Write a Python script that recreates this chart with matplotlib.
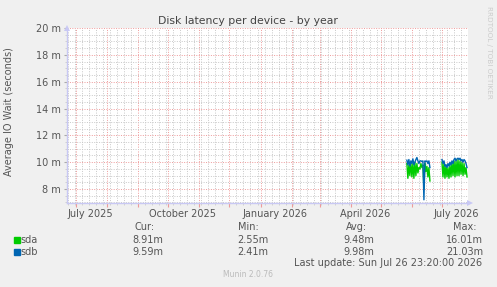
import matplotlib
matplotlib.use("Agg")
import matplotlib.pyplot as plt
import matplotlib.dates as mdates
import numpy as np
from datetime import datetime, timedelta

# ---- data ----
title = "Disk latency per device - by year"
ylabel = "Average IO Wait (seconds)"
series_names = ["sda", "sdb"]
series_colors = ["#00CC00", "#0066B3"]

seg1_start = datetime(2026, 5, 27)
seg2_start = datetime(2026, 7, 1)

sda_seg1 = [9.9, 8.8, 9.8, 9.0, 10.0, 8.9, 9.9, 8.8, 10.0, 9.0, 9.9, 9.2,
            9.6, 9.5, 9.9, 9.6, 9.8, 8.0, 9.9, 9.3, 9.7, 8.9, 9.6, 8.6]
sdb_seg1 = [10.15, 9.8, 10.2, 9.7, 10.1, 9.9, 10.25, 9.8, 10.0, 10.2, 10.35, 10.1,
            9.9, 10.1, 10.1, 10.05, 10.1, 7.2, 10.1, 10.05, 10.1, 9.9, 10.1, 9.6]
sda_seg2 = [10.0, 8.9, 9.9, 8.8, 9.8, 8.9, 9.6, 8.8, 9.8, 8.9, 10.0, 9.0, 10.1,
            8.9, 10.1, 9.0, 10.2, 9.0, 10.1, 9.1, 10.0, 9.0, 9.9, 9.1, 9.6, 8.9]
sdb_seg2 = [10.2, 9.9, 10.1, 9.7, 9.8, 9.6, 9.9, 9.7, 10.0, 9.8, 10.1, 9.9, 10.2,
            10.3, 10.1, 10.25, 10.3, 10.2, 10.3, 10.1, 10.2, 10.0, 10.2, 10.1, 9.9, 9.6]

y_ticks = [8, 10, 12, 14, 16, 18, 20]
x_label_dates = [datetime(2025, 7, 15), datetime(2025, 10, 15), datetime(2026, 1, 15),
                 datetime(2026, 4, 15), datetime(2026, 7, 15)]
x_labels = ["July 2025", "October 2025", "January 2026", "April 2026", "July 2026"]

legend_headers = ["Cur:", "Min:", "Avg:", "Max:"]
sda_stats = ["8.91m", "2.55m", "9.48m", "16.01m"]
sdb_stats = ["9.59m", "2.41m", "9.98m", "21.03m"]
last_update = "Last update: Sun Jul 26 23:20:00 2026"
footer = "Munin 2.0.76"
watermark = "RRDTOOL / TOBI OETIKER"

t_end = datetime(2026, 7, 26, 23, 20)
t_start = t_end - timedelta(days=400)

# ---- figure ----
W, H = 497, 287
fig = plt.figure(figsize=(W / 100, H / 100), dpi=100, facecolor="#F0F0F0")
plt.rcParams["font.family"] = ["DejaVu Sans"]


def fx(px):
    return px / W


def fy(py):
    return 1 - py / H


ax = fig.add_axes([fx(67), fy(203), fx(468) - fx(67), fy(28) - fy(203)])
ax.set_facecolor("white")

def dates_from(start, n):
    return [start + timedelta(days=i) for i in range(n)]

d1 = dates_from(seg1_start, len(sda_seg1))
d2 = dates_from(seg2_start, len(sda_seg2))
ax.plot(d1, sda_seg1, color=series_colors[0], lw=1.0, zorder=3)
ax.plot(d2, sda_seg2, color=series_colors[0], lw=1.0, zorder=3)
ax.plot(d1, sdb_seg1, color=series_colors[1], lw=1.0, zorder=4)
ax.plot(d2, sdb_seg2, color=series_colors[1], lw=1.0, zorder=4)

ax.set_xlim(t_start, t_end)
ax.set_ylim(6.96, 20)

# grid
ax.xaxis.set_major_locator(mdates.MonthLocator())
ax.xaxis.set_minor_locator(mdates.WeekdayLocator(byweekday=mdates.MO))
ax.yaxis.set_major_locator(plt.FixedLocator(y_ticks))
ax.yaxis.set_minor_locator(plt.MultipleLocator(0.5))
ax.grid(which="minor", color="#C8C8C8", linestyle=(0, (1, 1.5)), lw=0.7, zorder=1)
ax.grid(which="major", color="#EE9A9A", linestyle=(0, (1, 1.5)), lw=0.7, zorder=2)
ax.set_axisbelow(True)

ax.tick_params(axis="x", which="major", length=3, color="#EE9A9A", labelbottom=False, direction="out")
ax.tick_params(axis="x", which="minor", length=1.5, color="#CCCCCC", labelbottom=False)
ax.tick_params(axis="y", which="major", length=2.5, color="#AAAAAA", labelsize=7,
               labelcolor="#555555", pad=2)
ax.tick_params(axis="y", which="minor", length=1.5, color="#CCCCCC")
ax.set_yticklabels([f"{v} m" for v in y_ticks])

for s in ["top", "right"]:
    ax.spines[s].set_visible(False)
for s in ["left", "bottom"]:
    ax.spines[s].set_color("#C8C8F4")
    ax.spines[s].set_linewidth(1.0)

# arrowheads
ax.plot([0], [1.0], marker="^", markersize=4, color="#C8C8F4", transform=ax.transAxes,
        clip_on=False, zorder=5, markeredgewidth=0)
ax.plot([1.005], [0], marker=">", markersize=4, color="#C8C8F4", transform=ax.transAxes,
        clip_on=False, zorder=5, markeredgewidth=0)

# x labels
sec = ax.secondary_xaxis("bottom")
sec.set_xticks(mdates.date2num(x_label_dates))
sec.set_xticklabels(x_labels)
sec.tick_params(length=0, labelsize=7, labelcolor="#555555", pad=4)
sec.spines["bottom"].set_visible(False)

# title & labels
fig.text(fx(248), fy(21), title, ha="center", va="center", fontsize=7.8, color="#444444")
fig.text(fx(9), fy(112), ylabel, rotation=90, ha="center", va="center", fontsize=7,
         color="#555555")
fig.text(fx(489), fy(6), watermark, rotation=270, ha="center", va="top", fontsize=5.2,
         color="#CCCCCC")

# legend block
hdr_x = [155, 259, 367, 477]
val_x = [163, 268, 374, 483]
for hx, h in zip(hdr_x, legend_headers):
    fig.text(fx(hx), fy(227), h, ha="right", va="center", fontsize=7, color="#555555")
rows_y = [240, 252]
for ry, name, col, stats in zip(rows_y, series_names, series_colors, [sda_stats, sdb_stats]):
    fig.patches.append(plt.Rectangle((fx(14), fy(ry + 2.5)), fx(5.5), 5.5 / H,
                                     transform=fig.transFigure, color=col, figure=fig))
    fig.text(fx(20), fy(ry), name, ha="left", va="center", fontsize=7, color="#555555")
    for vx, v in zip(val_x, stats):
        fig.text(fx(vx), fy(ry), v, ha="right", va="center", fontsize=7, color="#555555")
fig.text(fx(482), fy(263.5), last_update, ha="right", va="center", fontsize=7, color="#555555")
fig.text(fx(248), fy(274.5), footer, ha="center", va="center", fontsize=5.5, color="#BBBBBB")

fig.savefig("out.png", dpi=100, facecolor=fig.get_facecolor())
